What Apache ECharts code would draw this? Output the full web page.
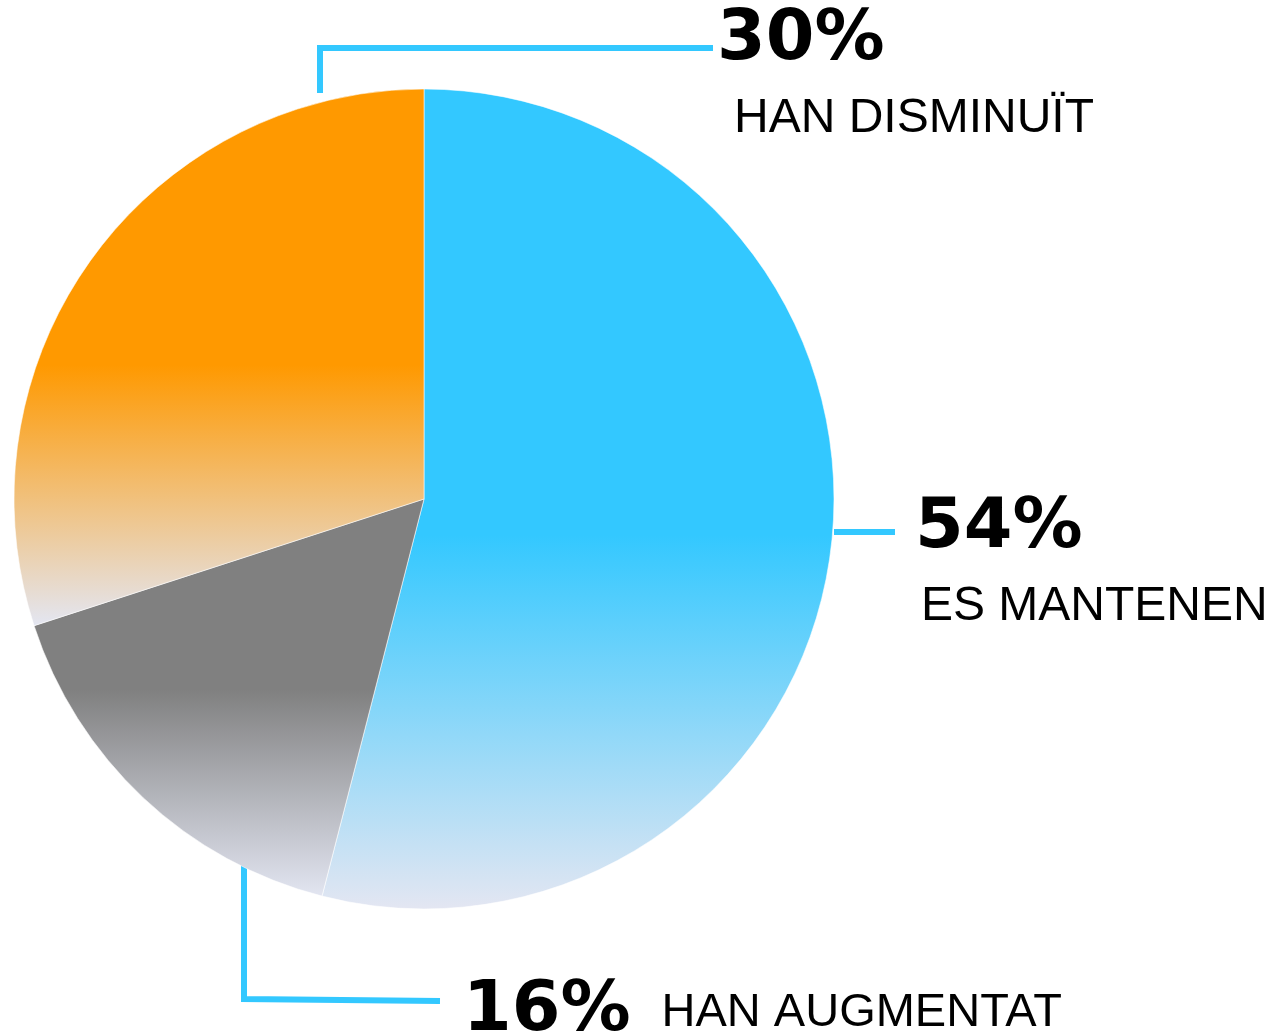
<!DOCTYPE html>
<html>
<head>
<meta charset="utf-8">
<script src="https://cdn.jsdelivr.net/npm/echarts@6/dist/echarts.min.js"></script>
<style>
    html, body {margin: 0; padding: 0; background: #fff;}
    #chart {width: 1272px; height: 1035px;}
</style>
</head>
<body>
<div id="chart"></div>
<script>
const categories = ['ES MANTENEN', 'HAN AUGMENTAT', 'HAN DISMINUÏT'];
const values = [54, 16, 30];

const baseColors = ['#33c8ff', '#808080', '#ff9900'];
const fadeColor = '#e3e6f2';
// each slice fades vertically, from fadeFrom to fadeTo (px)
const fadeFrom = [535, 690, 365];
const fadeTo = [908, 898, 626];

// where the labels and their leader lines sit (px)
const labelPos = [
    {x: 915, y: 494, sep: '\n', pad: 6, fs: 48, nh: 86, line: [[834, 532], [864, 532], [895, 532]]},
    {x: 463, y: 977, sep: '', pad: 31, fs: 47, nh: 68, line: [[244, 864], [244, 999], [440, 1001]]},
    {x: 717, y: 6, sep: '\n', pad: 17, fs: 48, nh: 86, line: [[320, 93], [320, 48], [713, 48]]}
];

let myChart = echarts.init(document.getElementById('chart'));

let data = categories.map((name, i) => {
    let pos = labelPos[i];
    return {
        name: name,
        value: values[i],
        itemStyle: {
            color: new echarts.graphic.LinearGradient(0, fadeFrom[i], 0, fadeTo[i], [
                {offset: 0, color: baseColors[i]},
                {offset: 1, color: fadeColor}
            ], true)
        },
        label: {
            formatter: `{p|${values[i]}%}${pos.sep}{n|${name}}`,
            rich: {
                p: {
                    fontFamily: 'DejaVu Sans',
                    fontWeight: 'bold',
                    fontSize: 70,
                    color: '#000',
                    lineHeight: 70,
                    verticalAlign: 'middle'
                },
                n: {
                    fontFamily: 'Liberation Sans',
                    fontSize: pos.fs,
                    color: '#000',
                    lineHeight: pos.nh,
                    verticalAlign: 'middle',
                    padding: pos.sep ? [0, 0, 0, pos.pad] : [3, 0, 0, pos.pad]
                }
            }
        }
    };
});

let option = {
    animation: false,
    backgroundColor: '#fff',
    series: [{
        type: 'pie',
        center: [424, 499],
        radius: 410,
        startAngle: 90,
        clockwise: true,
        avoidLabelOverlap: false,
        data: data,
        itemStyle: {
            borderColor: 'rgba(255,255,255,0.55)',
            borderWidth: 1
        },
        label: {
            show: true,
            position: 'outside'
        },
        labelLine: {
            show: true,
            smooth: false,
            lineStyle: {
                color: '#33c8ff',
                width: 6
            }
        },
        labelLayout: function (params) {
            let pos = labelPos[params.dataIndex];
            return {
                x: pos.x,
                y: pos.y,
                align: 'left',
                verticalAlign: 'top',
                labelLinePoints: pos.line.map(p => p.slice())
            };
        }
    }]
};

myChart.setOption(option);
</script>
</body>
</html>
